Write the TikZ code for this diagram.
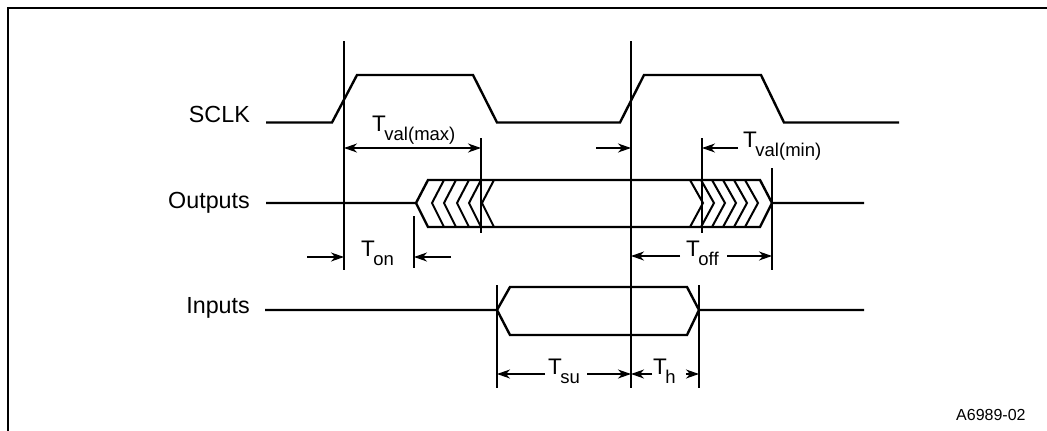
\documentclass[tikz,border=0pt]{standalone}
\usepackage{fontspec}
\setmainfont{Liberation Sans}
\usetikzlibrary{arrows.meta}

\newcommand{\lblsub}[1]{T\kern-1.5pt\lower 9pt\hbox{\fontsize{18.5}{20}\selectfont #1}}

\begin{document}
\begin{tikzpicture}[
  x=1pt, y=-1pt,
  frame/.style={line width=2.4pt},
  wave/.style={line width=2.4pt},
  tick/.style={line width=1.1pt},
  tip/.tip={Stealth[length=13pt, width=9pt, inset=4pt]},
  arr/.style={-tip, line width=1.1pt},
  lbl/.style={font=\fontsize{22.5}{24}\selectfont, anchor=base west, inner sep=0pt},
  sig/.style={lbl, anchor=base east, font=\fontsize{23.3}{25}\selectfont},
  figtag/.style={font=\fontsize{16}{18}\selectfont, anchor=base west, inner sep=0pt},
]
  \useasboundingbox (0,0) rectangle (1047,431);
  \draw[frame] (8,431) -- (8,8) -- (1047,8);

  \node[sig] (sclk) at (250,122.5) {SCLK};
  \node[sig] (outputs) at (250,208) {Outputs};
  \node[sig] (inputs) at (250,313) {Inputs};

  \draw[wave] (266,122.5) -- (332,122.5) -- (357,75) -- (473,75) -- (497,122.5)
    -- (620,122.5) -- (644,75) -- (761,75) -- (784,122.5) -- (899,122.5);

  \draw[wave] (266,203) -- (416,203) -- (428,180) -- (760,180) -- (772,203) -- (864,203);
  \draw[wave] (416,203) -- (428,227) -- (760,227) -- (772,203);
  \foreach \tipx in {432,444,457,469,482}
    \draw[wave, line width=2pt] (\tipx+12,180) -- (\tipx,203) -- (\tipx+12,227);
  \foreach \tipx in {703,714,725,736,747,758}
    \draw[wave, line width=2pt] (\tipx-13,180) -- (\tipx,203) -- (\tipx-13,227);

  \draw[wave] (265,310) -- (497,310) -- (510,287) -- (687,287) -- (699,310) -- (864,310);
  \draw[wave] (497,310) -- (510,335) -- (687,335) -- (699,310);

  \coordinate (rise1top) at (344,41);
  \coordinate (rise1bot) at (344,270);
  \coordinate (rise2top) at (631,41);
  \coordinate (rise2bot) at (631,388);
  \draw[tick] (rise1top) -- (rise1bot);
  \draw[tick] (rise2top) -- (rise2bot);
  \draw[tick] (481,138) -- (481,233);
  \draw[tick] (702,138) -- (702,233);
  \draw[tick] (772,168) -- (772,270);
  \draw[tick] (414,216) -- (414,268);
  \draw[tick] (497,285) -- (497,388);
  \draw[tick] (699,285) -- (699,388);

  \node[lbl] (tvalmax) at (372,131) {\lblsub{val(max)}};
  \node[lbl] (tvalmin) at (743,147) {\lblsub{val(min)}};
  \node[lbl] (ton) at (361,256) {\lblsub{on}};
  \node[lbl] (toff) at (686,256) {\lblsub{off}};
  \node[lbl] (tsu) at (548,374) {\lblsub{su}};
  \node[lbl] (th) at (653,374) {\lblsub{h}};
  \node[figtag] (figid) at (956,420) {A6989-02};

  \coordinate (vmaxl) at (344,148);
  \coordinate (vmaxr) at (481,148);
  \draw[arr, tip-tip] (vmaxl) -- (vmaxr);

  \coordinate (vminin) at (596,148);
  \coordinate (vminout) at (738,148);
  \draw[arr] (vminin) -- (631,148);
  \draw[arr] (vminout) -- (702,148);

  \coordinate (onin) at (307,257);
  \coordinate (onout) at (451,257);
  \draw[arr] (onin) -- (344,257);
  \draw[arr] (onout) -- (414,257);

  \coordinate (offl) at (680,256);
  \coordinate (offr) at (727,256);
  \draw[arr] (offl) -- (631,256);
  \draw[arr] (offr) -- (772,256);

  \coordinate (sul) at (545,374);
  \coordinate (sur) at (587,374);
  \draw[arr] (sul) -- (497,374);
  \draw[arr] (sur) -- (631,374);

  \coordinate (hl) at (652,374);
  \coordinate (hr) at (686,374);
  \draw[arr] (hl) -- (631,374);
  \draw[arr] (hr) -- (699,374);
\end{tikzpicture}
\end{document}
